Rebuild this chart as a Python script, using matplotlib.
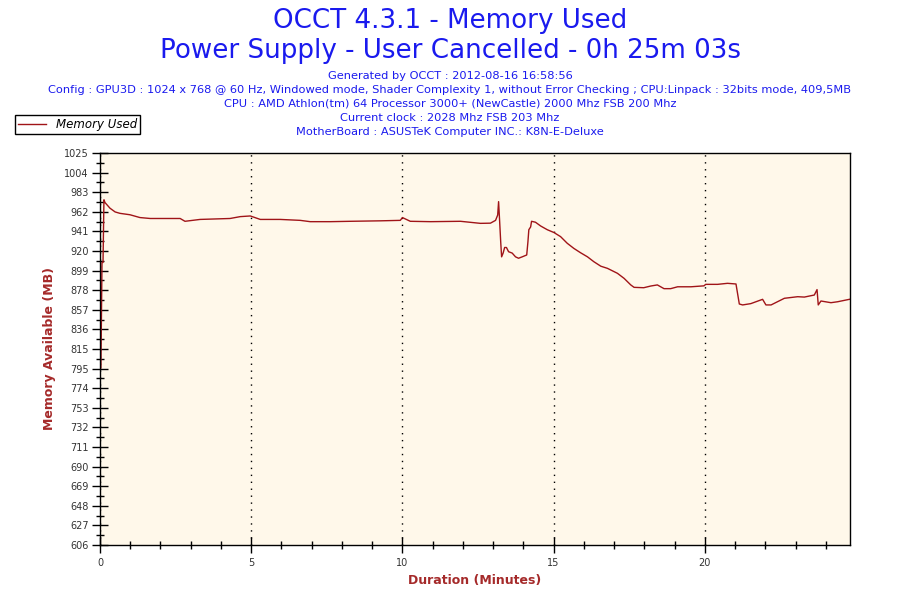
import numpy as np
import matplotlib
matplotlib.use("Agg")
import matplotlib.pyplot as plt
from matplotlib.ticker import MultipleLocator, FixedLocator

# data (minutes, MB)
minutes = [0.0, 0.03, 0.066, 0.1, 0.13, 0.166, 0.33, 0.5, 0.66, 0.99, 1.32, 1.66,
           2.65, 2.81, 3.31, 4.30, 4.64, 4.97, 5.30, 5.96, 6.62, 6.95, 7.62, 8.28,
           9.27, 9.93, 10.0, 10.26, 10.93, 11.92, 12.58, 12.91, 13.08, 13.15, 13.18,
           13.21, 13.25, 13.28, 13.33, 13.38, 13.44, 13.51, 13.63, 13.74, 13.84,
           13.96, 14.11, 14.15, 14.18, 14.24, 14.27, 14.40, 14.57, 14.79, 15.01,
           15.23, 15.45, 15.67, 15.89, 16.12, 16.33, 16.56, 16.78, 17.11, 17.33,
           17.55, 17.66, 17.98, 18.21, 18.43, 18.65, 18.87, 19.10, 19.54, 19.97,
           20.03, 20.42, 20.75, 21.03, 21.14, 21.25, 21.52, 21.91, 22.02, 22.19,
           22.63, 23.07, 23.29, 23.62, 23.71, 23.75, 23.84, 24.17, 24.39, 24.78]
memory = [795, 795, 908, 908, 975, 972, 966, 962, 960.5, 959, 956, 955,
          955, 952, 954, 955, 957, 957.7, 954, 954, 953, 951.6, 951.6, 952,
          952.5, 953, 956, 952, 951.6, 952, 949.8, 950, 953, 958.7, 973,
          955, 930, 914, 918, 924, 924, 919.5, 918, 914, 912.5,
          914, 916, 930, 943, 946, 952, 951, 947, 943, 940,
          935.6, 928.5, 923, 918.4, 914, 908.8, 904, 901.7, 896.4, 891,
          884, 881.4, 881, 882.8, 884, 880, 880, 882, 882, 883,
          884.6, 884.6, 885.7, 885, 863.6, 862.6, 864, 868.6, 862.6, 862.6,
          869.7, 871.4, 871, 873.2, 879, 862.6, 866.8, 865, 866, 868.6]

y_labels = ['606', '627', '648', '669', '690', '711', '732', '753', '774', '795',
            '815', '836', '857', '878', '899', '920', '941', '962', '983', '1004', '1025']

title_lines = ["OCCT 4.3.1 - Memory Used",
               "Power Supply - User Cancelled - 0h 25m 03s"]
info_lines = ["Generated by OCCT : 2012-08-16 16:58:56",
              "Config : GPU3D : 1024 x 768 @ 60 Hz, Windowed mode, Shader Complexity 1, "
              "without Error Checking ; CPU:Linpack : 32bits mode, 409,5MB",
              "CPU : AMD Athlon(tm) 64 Processor 3000+ (NewCastle) 2000 Mhz FSB 200 Mhz",
              "Current clock : 2028 Mhz FSB 203 Mhz",
              "MotherBoard : ASUSTeK Computer INC.: K8N-E-Deluxe"]

blue = '#1a1aee'
red = '#a01418'
label_red = '#a52a2a'

fig = plt.figure(figsize=(9, 6), dpi=100)
ax = fig.add_axes([100/900, 55/600, 750/900, 392/600])
ax.set_facecolor('#fff8ea')

line, = ax.plot(minutes, memory, color=red, linewidth=1.0, label='Memory Used')

ax.set_xlim(0, 24.8)
ax.set_ylim(606, 1025)

y_ticks = np.linspace(606, 1025, len(y_labels))
ax.yaxis.set_major_locator(FixedLocator(y_ticks))
ax.set_yticklabels(y_labels)
ax.yaxis.set_minor_locator(FixedLocator((y_ticks[:-1] + y_ticks[1:]) / 2))
ax.xaxis.set_major_locator(MultipleLocator(5))
ax.xaxis.set_minor_locator(MultipleLocator(1))

ax.tick_params(which='major', direction='inout', length=12, width=1, labelsize=7,
               labelcolor='#333333')
ax.tick_params(which='minor', direction='inout', length=6, width=1)
ax.tick_params(axis='x', which='both', top=False, pad=3)
ax.tick_params(axis='y', which='both', right=False, pad=2)

ax.grid(True, axis='x', which='major', color='black', linestyle=(0, (1, 4)), linewidth=1)
for s in ax.spines.values():
    s.set_color('black')
    s.set_linewidth(1)

ax.set_xlabel('Duration (Minutes)', color=label_red, fontsize=9, fontweight='bold',
              labelpad=5)
ax.set_ylabel('Memory Available (MB)', color=label_red, fontsize=9, fontweight='bold',
              labelpad=6)

fig.text(0.5, 1 - 21/600, title_lines[0], ha='center', va='center', fontsize=18.8, color=blue)
fig.text(0.5, 1 - 51/600, title_lines[1], ha='center', va='center', fontsize=18.8, color=blue)
for i, txt in enumerate(info_lines):
    fig.text(0.5, 1 - (76 + i*14)/600, txt, ha='center', va='center', fontsize=8.2, color=blue)

leg = fig.legend(handles=[line], loc='upper left', bbox_to_anchor=(15/900, 1 - 115/600),
                 borderaxespad=0, fancybox=False, framealpha=1, edgecolor='black',
                 borderpad=0.25, handlelength=2.4, prop={'style': 'italic', 'size': 8.5})
leg.get_frame().set_linewidth(1)

fig.savefig('out.png', dpi=100)
